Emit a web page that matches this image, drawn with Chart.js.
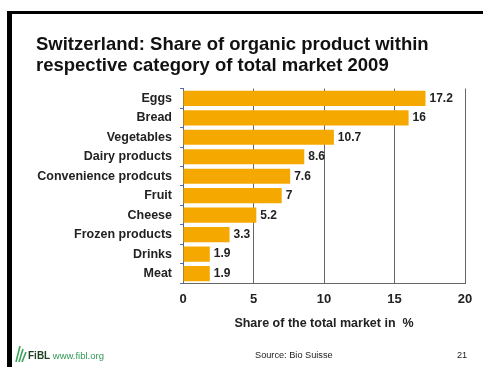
<!DOCTYPE html>
<html>
<head>
<meta charset="utf-8">
<script src="https://cdn.jsdelivr.net/npm/chart.js@4.4.1/dist/chart.umd.min.js"></script>
<style>
  html, body { margin: 0; padding: 0; background: #fff; }
  body { width: 483px; height: 367px; position: relative; overflow: hidden; font-family: "Liberation Sans", Arial, sans-serif; }
  #frame { position: absolute; left: 7px; top: 11px; right: -10px; bottom: -10px; border-left: 5px solid #000; border-top: 3px solid #000; }
  #myChart { position: absolute; left: 0; top: 0; }
  .foot { position: absolute; top: 350px; font-size: 9.2px; color: #222; }
  #logo { left: 14px; top: 344px; }
  #logo b { color: #1f3f1f; font-size: 10px; }
  #logo span { color: #2f9a54; font-size: 9.5px; }
</style>
</head>
<body>
<div id="frame"></div>
<canvas id="myChart" width="483" height="367"></canvas>
<div class="foot" id="logo">
  <svg width="14" height="18" viewBox="0 0 14 18" style="vertical-align:-3px">
    <path d="M2 18 L6 2 M5 18 L9 5 M8 18 L12 8" stroke="#3aa35a" stroke-width="1.6" fill="none"/>
  </svg><b>FiBL</b> <span>www.fibl.org</span>
</div>
<div class="foot" style="left:255px">Source: Bio Suisse</div>
<div class="foot" style="left:457px">21</div>
<script>
// Biobranchen: Anteil am Gesamtmarkt 2009
const categories = ["Eggs", "Bread", "Vegetables", "Dairy products", "Convenience prodcuts",
                    "Fruit", "Cheese", "Frozen products", "Drinks", "Meat"];
const shares = [17.2, 16, 10.7, 8.6, 7.6, 7, 5.2, 3.3, 1.9, 1.9];
const xTicks = [0, 5, 10, 15, 20];

// Wert rechts neben jeden Balken schreiben
const valueLabels = {
    id: 'valueLabels',
    afterDatasetsDraw(chart) {
        const ctx = chart.ctx;
        const meta = chart.getDatasetMeta(0);
        ctx.save();
        ctx.font = 'bold 12px "Liberation Sans", Arial, sans-serif';
        ctx.fillStyle = '#222';
        ctx.textBaseline = 'middle';
        meta.data.forEach((bar, i) => {
            ctx.fillText(String(shares[i]), bar.x + 4, bar.y);
        });
        ctx.restore();
    }
};

new Chart(document.getElementById("myChart"), {
    type : 'bar',
    data : {
        labels: categories,
        datasets: [
            {
            data: shares,
            backgroundColor: "#F5A800",
            borderWidth: 0,
            barPercentage: 0.78,
            categoryPercentage: 1,
            },
        ],
    },
    options : {
        indexAxis: 'y',
        responsive: false,
        animation: false,
        layout: { padding: { left: 36, right: 18, top: 34, bottom: 36 } },
        scales: {
            x: {
                min: 0,
                max: 20,
                afterBuildTicks: (axis) => { axis.ticks = xTicks.map(v => ({ value: v })); },
                border: { color: '#666', width: 1 },
                grid: { color: '#666', drawTicks: false },
                ticks: {
                    padding: 8,
                    color: '#222',
                    font: { family: '"Liberation Sans", Arial, sans-serif', size: 13, weight: 'bold' },
                },
                title: {
                    display: true,
                    text: 'Share of the total market in  %',
                    color: '#222',
                    padding: { top: 1, bottom: 0 },
                    font: { family: '"Liberation Sans", Arial, sans-serif', size: 12.5, weight: 'bold' },
                },
            },
            y: {
                afterFit: (axis) => { axis.width = 147; },
                border: { color: '#666', width: 1 },
                grid: { drawOnChartArea: false, color: '#4b6fc0', tickLength: 3 },
                ticks: {
                    padding: 8,
                    color: '#222',
                    font: { family: '"Liberation Sans", Arial, sans-serif', size: 12.5, weight: 'bold' },
                },
            },
        },
        plugins: {
            legend: { display: false },
            tooltip: { enabled: false },
            title: {
                display: true,
                align: 'start',
                text: ['Switzerland: Share of organic product within',
                       'respective category of total market 2009'],
                color: '#111',
                padding: { top: 0, bottom: 12 },
                font: { family: '"Liberation Sans", Arial, sans-serif', size: 18.5, weight: 'bold', lineHeight: 1.15 },
            },
        },
    },
    plugins: [valueLabels],
});
</script>
</body>
</html>
